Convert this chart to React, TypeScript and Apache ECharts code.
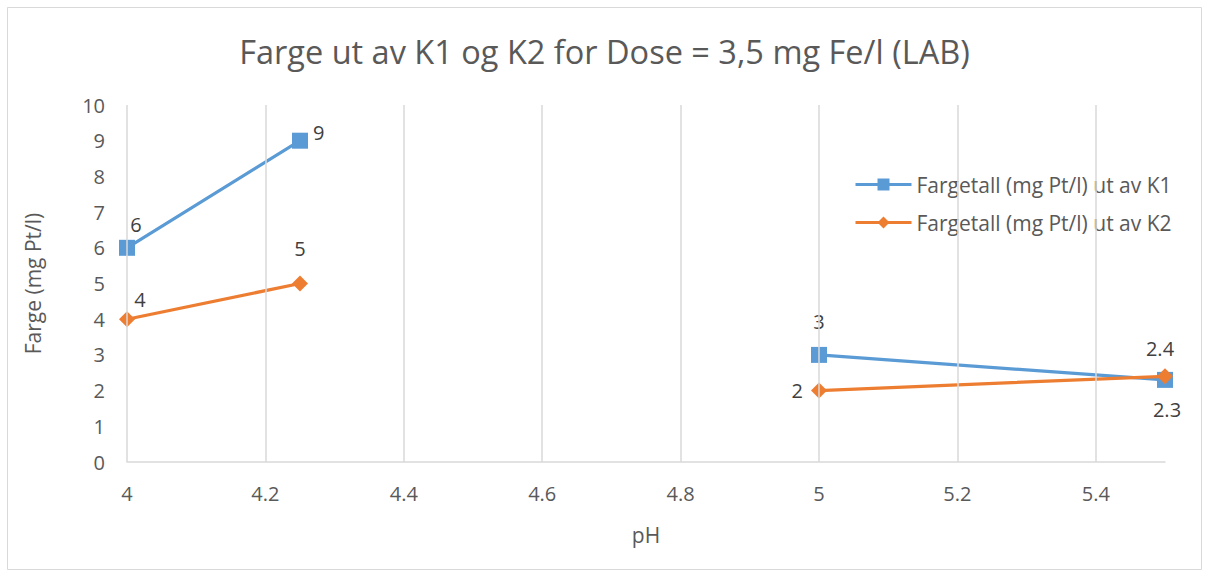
import React, { useEffect, useRef } from "react";
import * as echarts from "echarts";

const phValues = [4, 4.25, 4.625, 5, 5.5];
const k1Values: (number | null)[] = [6, 9, null, 3, 2.3];
const k2Values: (number | null)[] = [4, 5, null, 2, 2.4];
const seriesNames = ["Fargetall (mg Pt/l) ut av K1", "Fargetall (mg Pt/l) ut av K2"];
const xGridTicks = [4, 4.2, 4.4, 4.6, 4.8, 5, 5.2, 5.4];

const FONT = "'Open Sans', 'Noto Sans', sans-serif";

const k1Labels: any[] = [
  { position: "top", offset: [9, 0] },
  { position: "right", offset: [0, -8] },
  null,
  { position: "top", offset: [0, -10] },
  { position: "bottom", offset: [2, 7] },
];
const k2Labels: any[] = [
  { position: "top", offset: [13, 3] },
  { position: "top", offset: [0, -12] },
  null,
  { position: "left", offset: [-3, 0] },
  { position: "top", offset: [-5, -5] },
];

function build(vals: (number | null)[], labels: any[]) {
  return phValues.map((x, i) => {
    const v = vals[i];
    if (v === null) return [x, "-"];
    return { value: [x, v], label: { show: true, ...labels[i] } };
  });
}

export default function App() {
  const ref = useRef<HTMLDivElement>(null);
  useEffect(() => {
    if (!ref.current) return;
    const chart = echarts.init(ref.current, undefined, { renderer: "svg" });
    const labelStyle = { color: "#404040", fontSize: 20, fontFamily: FONT };
    chart.setOption({
      animation: false,
      backgroundColor: "#ffffff",
      graphic: [
        {
          type: "rect",
          shape: { x: 7.5, y: 7.5, width: 1194, height: 562 },
          style: { fill: "none", stroke: "#d9d9d9", lineWidth: 1 },
          silent: true,
        },
      ],
      title: {
        text: "Farge ut av K1 og K2 for Dose = 3,5 mg Fe/l (LAB)",
        left: "center",
        top: 30,
        textStyle: { color: "#595959", fontSize: 32.5, fontWeight: "normal", fontFamily: FONT },
      },
      legend: {
        orient: "vertical",
        left: 849,
        top: 169,
        itemWidth: 56,
        itemHeight: 15,
        itemGap: 17,
        lineStyle: { width: 3 },
        textStyle: { color: "#595959", fontSize: 21, fontFamily: FONT },
        data: seriesNames,
      },
      grid: { left: 127, right: 44, top: 105, bottom: 115, containLabel: false },
      xAxis: {
        type: "value",
        min: 4,
        max: 5.5,
        interval: 0.2,
        name: "pH",
        nameLocation: "middle",
        nameGap: 62,
        nameTextStyle: { color: "#595959", fontSize: 21, fontFamily: FONT },
        axisLine: { show: true, lineStyle: { color: "#d9d9d9", width: 1.5 } },
        axisTick: { show: false },
        axisLabel: {
          color: "#595959",
          fontSize: 20,
          fontFamily: FONT,
          margin: 21,
          showMaxLabel: false,
          formatter: (v: number) => String(Math.round(v * 10) / 10),
        },
        splitLine: { show: false },
      },
      yAxis: {
        type: "value",
        min: 0,
        max: 10,
        interval: 1,
        name: "Farge (mg Pt/l)",
        nameLocation: "middle",
        nameGap: 84,
        nameTextStyle: { color: "#595959", fontSize: 21, fontFamily: FONT },
        axisLine: { show: false },
        axisTick: { show: false },
        axisLabel: { color: "#595959", fontSize: 20, fontFamily: FONT, margin: 22 },
        splitLine: { show: false },
      },
      series: [
        {
          type: "line",
          data: [],
          silent: true,
          z: 1,
          markLine: {
            silent: true,
            symbol: "none",
            label: { show: false },
            lineStyle: { color: "#d9d9d9", width: 1.5, type: "solid" },
            data: xGridTicks.map((t) => ({ xAxis: t })),
          },
        },
        {
          name: seriesNames[0],
          type: "line",
          data: build(k1Values, k1Labels),
          connectNulls: false,
          symbol: "rect",
          symbolSize: 16,
          itemStyle: { color: "#5B9BD5" },
          lineStyle: { color: "#5B9BD5", width: 3.2 },
          label: labelStyle,
          z: 2,
        },
        {
          name: seriesNames[1],
          type: "line",
          data: build(k2Values, k2Labels),
          connectNulls: false,
          symbol: "diamond",
          symbolSize: 16,
          itemStyle: { color: "#ED7D31" },
          lineStyle: { color: "#ED7D31", width: 3.2 },
          label: labelStyle,
          z: 3,
        },
      ],
    });
    return () => chart.dispose();
  }, []);
  return (
    <div
      ref={ref}
      style={{ position: "fixed", left: 0, top: 0, width: 1209, height: 577 }}
    />
  );
}
